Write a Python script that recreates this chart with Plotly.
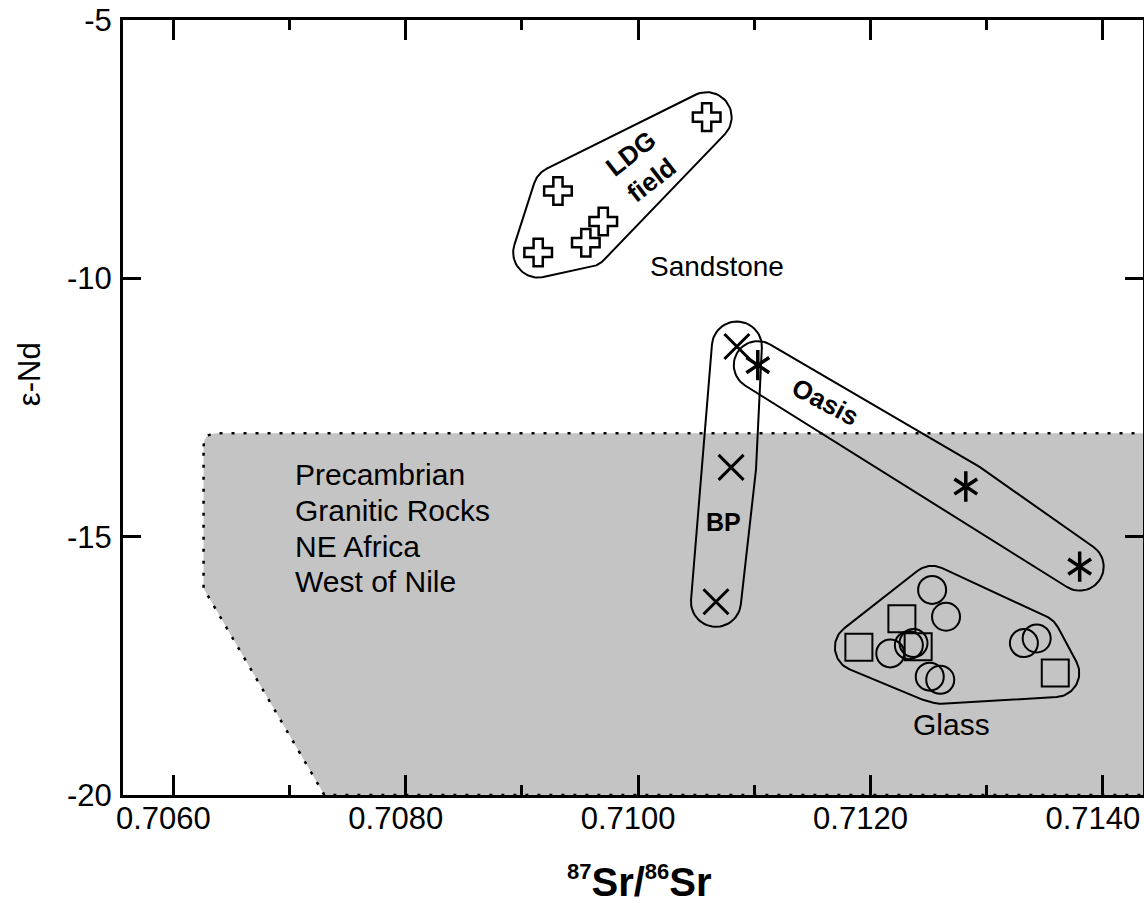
import numpy as np
import plotly.graph_objects as go

# ---------------- data ----------------
ldg_sr = [0.71059, 0.70931, 0.70970, 0.70955, 0.70914]
ldg_nd = [-6.88, -8.31, -8.90, -9.31, -9.50]

bp_sr = [0.71085, 0.71080, 0.71067]
bp_nd = [-11.32, -13.66, -16.26]

oasis_sr = [0.71103, 0.71282, 0.71380]
oasis_nd = [-11.68, -14.03, -15.58]

glass_circle_sr = [0.71253, 0.71265, 0.71217, 0.71233, 0.71237, 0.71251, 0.71260, 0.71332, 0.71343]
glass_circle_nd = [-16.03, -16.55, -17.26, -17.10, -17.06, -17.71, -17.77, -17.06, -16.97]

glass_square_sr = [0.71227, 0.71190, 0.71241, 0.71359]
glass_square_nd = [-16.59, -17.14, -17.13, -17.64]

# Precambrian granitic rocks (NE Africa, west of Nile) field boundary
granite_sr = [0.70626, 0.7150, 0.7150, 0.7073, 0.70626]
granite_nd = [-13.0, -13.0, -20.0, -20.0, -16.0]
granite_label_lines = ["Precambrian", "Granitic Rocks", "NE Africa", "West of Nile"]

x_tick_vals = [0.706, 0.708, 0.710, 0.712, 0.714]
x_tick_text = ["0.7060", "0.7080", "0.7100", "0.7120", "0.7140"]
y_tick_vals = [-20, -15, -10, -5]
y_tick_text = ["-20", "-15", "-10", "-5"]

# ---------------- geometry helpers ----------------
X_RANGE = [0.705567, 0.714345]
Y_RANGE = [-20.0, -5.0]
PLOT_W, PLOT_H = 1020.0, 775.0
SX = PLOT_W / (X_RANGE[1] - X_RANGE[0])
SY = PLOT_H / (Y_RANGE[1] - Y_RANGE[0])


def to_px(xs, ys):
    return np.column_stack([(np.asarray(xs) - X_RANGE[0]) * SX,
                            (np.asarray(ys) - Y_RANGE[0]) * SY])


def to_data(P):
    return P[:, 0] / SX + X_RANGE[0], P[:, 1] / SY + Y_RANGE[0]


def convex_hull(P):
    pts = sorted(map(tuple, P))

    def cross(o, a, b):
        return (a[0] - o[0]) * (b[1] - o[1]) - (a[1] - o[1]) * (b[0] - o[0])

    lower = []
    for p in pts:
        while len(lower) >= 2 and cross(lower[-2], lower[-1], p) <= 0:
            lower.pop()
        lower.append(p)
    upper = []
    for p in reversed(pts):
        while len(upper) >= 2 and cross(upper[-2], upper[-1], p) <= 0:
            upper.pop()
        upper.append(p)
    return np.array(lower[:-1] + upper[:-1])


def rounded_hull(xs, ys, r_px, n_arc=30):
    H = convex_hull(to_px(xs, ys))
    m = len(H)
    out = []
    for i in range(m):
        prev, cur, nxt = H[i - 1], H[i], H[(i + 1) % m]
        e1, e2 = cur - prev, nxt - cur
        n1 = np.array([e1[1], -e1[0]]) / np.hypot(*e1)
        n2 = np.array([e2[1], -e2[0]]) / np.hypot(*e2)
        a1, a2 = np.arctan2(n1[1], n1[0]), np.arctan2(n2[1], n2[0])
        if a2 < a1:
            a2 += 2 * np.pi
        for t in np.linspace(a1, a2, n_arc):
            out.append(cur + r_px * np.array([np.cos(t), np.sin(t)]))
    out.append(out[0])
    return to_data(np.array(out))


def fillet_polygon(xs, ys, idx, r_px, n=14):
    P = to_px(xs, ys)
    m = len(P)
    v, a, b = P[idx], P[idx - 1], P[(idx + 1) % m]
    pa = v + (a - v) / np.hypot(*(a - v)) * r_px
    pb = v + (b - v) / np.hypot(*(b - v)) * r_px
    t = np.linspace(0, 1, n)[:, None]
    arc = (1 - t) ** 2 * pa + 2 * (1 - t) * t * v + t ** 2 * pb
    pts = list(P[:idx]) + list(arc) + list(P[idx + 1:])
    pts.append(pts[0])
    return to_data(np.array(pts))


FONT = "Liberation Sans, Arial, Helvetica, sans-serif"

fig = go.Figure()

# grey granitic field
gx, gy = fillet_polygon(granite_sr, granite_nd, 0, 13)
fig.add_trace(go.Scatter(x=gx, y=gy, mode="lines", fill="toself",
                         fillcolor="#c4c4c4",
                         line=dict(color="black", width=2.5, dash="3px,9px"),
                         hoverinfo="skip"))

# enclosing fields
for xs, ys, r in [(ldg_sr, ldg_nd, 25), (bp_sr, bp_nd, 25), (oasis_sr, oasis_nd, 24),
                  (glass_circle_sr + glass_square_sr, glass_circle_nd + glass_square_nd, 24)]:
    hx, hy = rounded_hull(xs, ys, r)
    fig.add_trace(go.Scatter(x=hx, y=hy, mode="lines",
                             line=dict(color="black", width=2), hoverinfo="skip"))

# markers
fig.add_trace(go.Scatter(x=ldg_sr, y=ldg_nd, mode="markers", name="LDG",
                         marker=dict(symbol="cross-open", size=23, color="black",
                                     line=dict(color="black", width=2.5))))
fig.add_trace(go.Scatter(x=bp_sr, y=bp_nd, mode="markers", name="BP",
                         marker=dict(symbol="x-thin-open", size=25, color="black",
                                     line=dict(color="black", width=3))))
for sym in ["y-up-open", "y-down-open"]:
    fig.add_trace(go.Scatter(x=oasis_sr, y=oasis_nd, mode="markers", name="Oasis",
                             marker=dict(symbol=sym, size=19, color="black",
                                         line=dict(color="black", width=3.5))))
fig.add_trace(go.Scatter(x=glass_circle_sr, y=glass_circle_nd, mode="markers", name="Glass",
                         marker=dict(symbol="circle-open", size=28, color="black",
                                     line=dict(color="black", width=2))))
fig.add_trace(go.Scatter(x=glass_square_sr, y=glass_square_nd, mode="markers", name="Glass",
                         marker=dict(symbol="square-open", size=27, color="black",
                                     line=dict(color="black", width=2))))

# labels
annots = [
    dict(x=0.710085, y=-9.78, text="Sandstone", xanchor="left", size=28),
    dict(x=0.712693, y=-18.64, text="Glass", size=30),
    dict(x=0.710025, y=-7.85, text="<b>LDG<br>field</b>", textangle=-38, size=26),
    dict(x=0.711614, y=-12.39, text="<b>Oasis</b>", textangle=28, size=26),
    dict(x=0.710731, y=-14.71, text="<b>BP</b>", size=25),
]
for line_text, line_y in zip(granite_label_lines, [-13.806, -14.503, -15.199, -15.877]):
    annots.append(dict(x=0.707030, y=line_y, text=line_text, xanchor="left", size=30))

for a in annots:
    a.setdefault("xanchor", "center")
    size = a.pop("size")
    fig.add_annotation(xref="x", yref="y", showarrow=False, yanchor="middle",
                       font=dict(family=FONT, color="black", size=size), **a)

# axis titles
fig.add_annotation(xref="paper", yref="paper", x=0.506, y=-0.112, showarrow=False,
                   xanchor="center", yanchor="middle",
                   text="<b><sup><span style='font-size:22px'>87</span></sup>Sr/"
                        "<sup><span style='font-size:22px'>86</span></sup>Sr</b>",
                   font=dict(family=FONT, size=40, color="black"))
fig.add_annotation(xref="paper", yref="paper", x=-0.0922, y=0.543, showarrow=False,
                   xanchor="center", yanchor="middle", textangle=-90,
                   text="ε-Nd", font=dict(family=FONT, size=31, color="black"))

axis_common = dict(showline=True, linewidth=3, linecolor="black", mirror="allticks",
                   ticks="inside", tickcolor="black", tickwidth=2.5,
                   showgrid=False, zeroline=False, automargin=False,
                   ticklabeloverflow="allow",
                   tickfont=dict(family=FONT, size=31, color="black"))

fig.update_xaxes(range=X_RANGE, tickvals=x_tick_vals, ticktext=x_tick_text,
                 ticklen=20, ticklabelstandoff=-6, ticklabelshift=-10,
                 minor=dict(ticks="inside", ticklen=10, tickwidth=2.5, tickcolor="black",
                            tick0=0.705, dtick=0.001, showgrid=False),
                 **axis_common)
fig.update_yaxes(range=Y_RANGE, tickvals=y_tick_vals, ticktext=y_tick_text,
                 ticklen=18, ticklabelstandoff=2, **axis_common)

fig.update_layout(width=1144, height=903,
                  margin=dict(l=123, r=1, t=20, b=108),
                  plot_bgcolor="white", paper_bgcolor="white",
                  showlegend=False, font=dict(family=FONT, color="black"))

# remove the browser's default 8px body margin so the figure fills the window exactly
fig.write_html("out.html", config={"displayModeBar": False},
               post_script="document.body.style.margin='0';"
                           "document.documentElement.style.overflow='hidden';")
